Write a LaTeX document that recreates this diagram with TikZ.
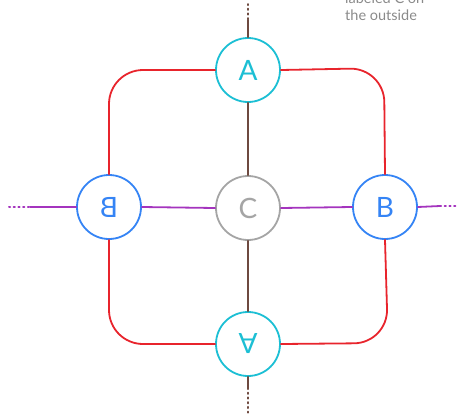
\documentclass[tikz,border=0pt]{standalone}
\usepackage{fontspec}
\setmainfont{Lato}
\usetikzlibrary{calc}
\definecolor{cya}{HTML}{1CBFD4}
\definecolor{blu}{HTML}{3584F5}
\definecolor{gry}{HTML}{A5A5A5}
\definecolor{rd}{HTML}{E8242C}
\definecolor{brn}{HTML}{6E4A40}
\definecolor{prp}{HTML}{A434BE}
\definecolor{txt}{HTML}{8A8A8A}
\begin{document}
\begin{tikzpicture}[x=1pt,y=-1pt,
  nd/.style={circle,draw,line width=1.8pt,minimum size=64pt,inner sep=0pt,fill=white,font=\fontsize{28}{28}\selectfont},
  ln/.style={line width=1.8pt,line cap=round},
  dots/.style={line width=2pt,dash pattern=on 1.2pt off 3.5pt,line cap=round},
  redl/.style={ln,rd,rounded corners=34pt}]
\useasboundingbox (0,0) rectangle (458,416);
% nodes
\node[nd,draw=cya,text=cya] (At) at (248,70) {A};
\node[nd,draw=gry,text=gry] (C) at (248,208) {C};
\node[nd,draw=blu,text=blu] (Bl) at (109,207) {\scalebox{-1}[1]{B}};
\node[nd,draw=blu,text=blu] (Br) at (385,207) {B};
\node[nd,draw=cya,text=cya] (Ab) at (248,344) {\scalebox{1}[-1]{A}};
% free ends
\coordinate (tdot) at (248,4);
\coordinate (tend) at (248,20);
\coordinate (bend) at (248,388);
\coordinate (bdot) at (248,413);
\coordinate (ldot) at (9,207);
\coordinate (lend) at (30,207);
\coordinate (rend) at (440,206);
\coordinate (rdot) at (456,206);
% brown vertical
\draw[dots,brn] (tdot) -- (tend);
\draw[ln,brn] (tend) -- (At.north);
\draw[ln,brn] (At.south) -- (C.north);
\draw[ln,brn] (C.south) -- (Ab.north);
\draw[ln,brn] (Ab.south) -- (bend);
\draw[dots,brn] (bend) -- (bdot);
% purple horizontal
\draw[dots,prp] (ldot) -- (lend);
\draw[ln,prp] (lend) -- (Bl.west);
\draw[ln,prp] (Bl.east) -- (C.west);
\draw[ln,prp] (C.east) -- (Br.west);
\draw[ln,prp] (Br.east) -- (rend);
\draw[dots,prp] (rend) -- (rdot);
% red arcs
\draw[redl] (At.west) -- (109,70) -- (Bl.north);
\draw[redl] (At.east) -- (384,68) -- (Br.north);
\draw[redl] (Bl.south) -- (109,344) -- (Ab.west);
\draw[redl] (Br.south) -- (388,343) -- (Ab.east);
% note
\node[anchor=north west,align=left,text=txt,font=\fontsize{14.5}{17}\selectfont,inner sep=0pt] (note) at (345,-7) {labeled C on\\the outside};
\end{tikzpicture}
\end{document}
